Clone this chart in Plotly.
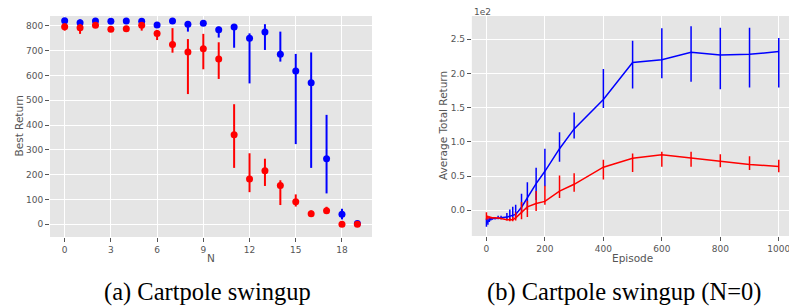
import plotly.graph_objects as go

# ---------------- Left panel: Best Return vs N ----------------
n_vals = list(range(20))
blue_best = [821, 813, 820, 819, 820, 819, 804, 820, 807, 811, 785, 796, 750, 776, 686, 618, 571, 264, 40, 3]
blue_best_hi = [826, 826, 826, 824, 826, 825, 810, 826, 815, 815, 797, 805, 770, 807, 777, 687, 693, 441, 62, 6]
blue_best_lo = [816, 802, 814, 814, 814, 813, 798, 814, 777, 805, 753, 712, 568, 703, 656, 323, 227, 124, 19, 0]
red_best = [797, 793, 803, 787, 789, 803, 769, 725, 695, 708, 667, 361, 182, 215, 156, 90, 42, 54, 0, 0]
red_best_hi = [811, 807, 808, 792, 794, 813, 784, 791, 747, 768, 734, 484, 286, 264, 177, 120, 55, 70, 3, 3]
red_best_lo = [781, 768, 798, 782, 784, 781, 743, 692, 525, 625, 586, 227, 129, 154, 77, 71, 37, 43, 0, 0]
left_xticks = [0, 3, 6, 9, 12, 15, 18]
left_yticks = [0, 100, 200, 300, 400, 500, 600, 700, 800]

# ---------------- Right panel: Average Total Return vs Episode (x 1e2) ----------------
episodes = [0, 5, 10, 15, 20, 30, 40, 50, 70, 80, 90, 100, 120, 140, 170, 200, 250, 300,
            400, 500, 600, 700, 800, 900, 1000]
blue_avg = [-0.19, -0.16, -0.14, -0.13, -0.12, -0.12, -0.11, -0.11, -0.10, -0.09, -0.08, -0.06,
            0.044, 0.18, 0.39, 0.57, 0.90, 1.19, 1.62, 2.16, 2.20, 2.31, 2.27, 2.28, 2.32]
blue_avg_hi = [-0.12, -0.12, -0.11, -0.11, -0.10, -0.10, -0.08, -0.08, -0.04, 0.01, 0.05, 0.08,
               0.24, 0.41, 0.62, 0.90, 1.14, 1.43, 2.065, 2.48, 2.66, 2.69, 2.67, 2.67, 2.52]
blue_avg_lo = [-0.24, -0.21, -0.17, -0.15, -0.14, -0.13, -0.13, -0.13, -0.13, -0.13, -0.12, -0.12,
               -0.045, 0.005, 0.15, 0.35, 0.71, 1.05, 1.495, 1.78, 1.93, 1.88, 1.77, 1.795, 1.795]
red_avg = [-0.08, -0.10, -0.10, -0.11, -0.11, -0.11, -0.11, -0.12, -0.14, -0.14, -0.14, -0.11,
           -0.03, 0.05, 0.10, 0.13, 0.28, 0.38, 0.63, 0.76, 0.81, 0.76, 0.71, 0.67, 0.64]
red_avg_hi = [-0.03, -0.08, -0.09, -0.10, -0.10, -0.10, -0.10, -0.11, -0.12, -0.11, -0.10, -0.03,
              0.12, 0.14, 0.28, 0.36, 0.51, 0.54, 0.74, 0.83, 0.857, 0.857, 0.82, 0.79, 0.74]
red_avg_lo = [-0.14, -0.13, -0.12, -0.12, -0.12, -0.12, -0.12, -0.13, -0.15, -0.16, -0.16, -0.15,
              -0.13, -0.10, -0.01, 0.08, 0.18, 0.27, 0.45, 0.56, 0.635, 0.635, 0.63, 0.59, 0.556]
right_xticks = [0, 200, 400, 600, 800, 1000]
right_yticks = [0.0, 0.5, 1.0, 1.5, 2.0, 2.5]

BLUE = "#0000ff"
RED = "#ff0000"
TICK_COL = "#555555"
FONT = "DejaVu Sans"


def err(mean, hi, lo):
    up = [h - m for h, m in zip(hi, mean)]
    dn = [m - l for m, l in zip(mean, lo)]
    return up, dn


fig = go.Figure()

for mean, hi, lo, col in [(blue_best, blue_best_hi, blue_best_lo, BLUE),
                          (red_best, red_best_hi, red_best_lo, RED)]:
    up, dn = err(mean, hi, lo)
    fig.add_trace(go.Scatter(
        x=n_vals, y=mean, mode="markers",
        marker=dict(color=col, size=7),
        error_y=dict(type="data", symmetric=False, array=up, arrayminus=dn,
                     color=col, thickness=2, width=0),
        xaxis="x", yaxis="y", showlegend=False))

for mean, hi, lo, col in [(blue_avg, blue_avg_hi, blue_avg_lo, BLUE),
                          (red_avg, red_avg_hi, red_avg_lo, RED)]:
    up, dn = err(mean, hi, lo)
    fig.add_trace(go.Scatter(
        x=episodes, y=mean, mode="lines",
        line=dict(color=col, width=1.5),
        error_y=dict(type="data", symmetric=False, array=up, arrayminus=dn,
                     color=col, thickness=1.5, width=0),
        xaxis="x2", yaxis="y2", showlegend=False))

axis_common = dict(
    showgrid=True, gridcolor="white", gridwidth=1, zeroline=False, showline=False,
    ticks="outside", ticklen=4, tickwidth=1, tickcolor=TICK_COL,
    tickfont=dict(family=FONT, size=9, color=TICK_COL),
    ticklabeloverflow="allow",
)

fig.update_layout(
    width=789, height=308,
    margin=dict(l=0, r=0, t=0, b=0),
    paper_bgcolor="white", plot_bgcolor="#e5e5e5",
    font=dict(family=FONT),
    xaxis=dict(domain=[0.0634, 0.4715], range=[-0.95, 19.95], tickvals=left_xticks,
               anchor="y", **axis_common),
    yaxis=dict(domain=[0.2305, 0.948], range=[-52, 840], tickvals=left_yticks,
               anchor="x", **axis_common),
    xaxis2=dict(domain=[0.598, 1.0], range=[-50, 1035], tickvals=right_xticks,
                anchor="y2", **axis_common),
    yaxis2=dict(domain=[0.2338, 0.948], range=[-0.376, 2.84], tickvals=right_yticks,
                tickformat=".1f", anchor="x2", **axis_common),
)

label_font = dict(family=FONT, size=10.5, color=TICK_COL)
cap_font = dict(family="Liberation Serif", size=24.5, color="black")
anns = [
    dict(text="N", x=211, y=258, font=label_font),
    dict(text="Best Return", x=18, y=126.5, font=label_font, textangle=-90),
    dict(text="Episode", x=632.7, y=258, font=label_font),
    dict(text="Average Total Return", x=443, y=126, font=label_font, textangle=-90),
    dict(text="(a) Cartpole swingup", x=207, y=292, font=cap_font),
    dict(text="(b) Cartpole swingup (N=0)", x=624, y=292, font=cap_font),
]
for a in anns:
    fig.add_annotation(
        text=a["text"], x=a["x"] / 789, y=1 - a["y"] / 308, xref="paper", yref="paper",
        xanchor="center", yanchor="middle", showarrow=False, font=a["font"],
        textangle=a.get("textangle", 0))
fig.add_annotation(text="1e2", x=472 / 789, y=1 - 11.7 / 308, xref="paper", yref="paper",
                   xanchor="left", yanchor="middle", showarrow=False,
                   font=dict(family=FONT, size=9, color=TICK_COL))

fig.write_html("out.html", config={"displayModeBar": False},
               post_script="document.body.style.margin='0';document.body.style.overflow='hidden';")
